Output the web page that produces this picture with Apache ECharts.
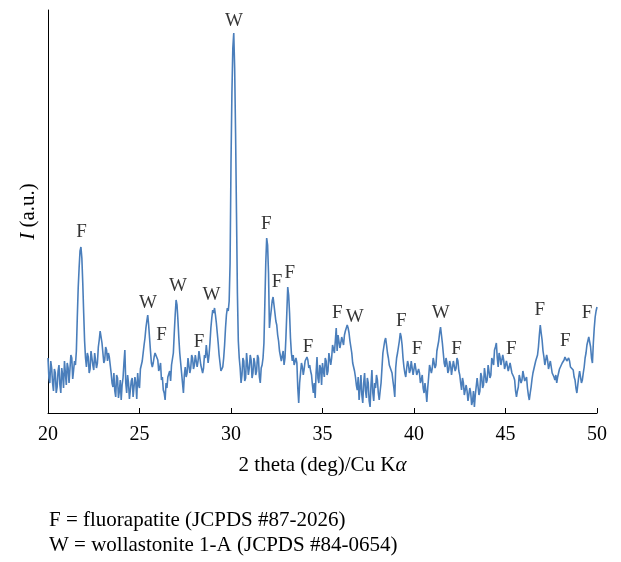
<!DOCTYPE html>
<html>
<head>
<meta charset="utf-8">
<script src="https://cdn.jsdelivr.net/npm/echarts@6/dist/echarts.min.js"></script>
<style>
html,body{margin:0;padding:0;background:#fff;}
#chart{width:621px;height:562px;}
</style>
</head>
<body>
<div id="chart"></div>
<script>
// 2 theta (deg), one row per degree
const twoTheta = [
20.00,20.05,20.10,20.15,20.20,20.25,20.30,20.35,20.40,20.45,20.50,20.55,20.60,20.65,20.70,20.75,20.80,20.85,20.90,20.95,
21.00,21.05,21.10,21.15,21.20,21.25,21.30,21.35,21.40,21.45,21.50,21.55,21.60,21.65,21.70,21.75,21.80,21.85,21.90,21.95,
22.00,22.05,22.10,22.15,22.20,22.25,22.30,22.35,22.40,22.45,22.50,22.55,22.60,22.65,22.70,22.75,22.80,22.85,22.90,22.95,
23.00,23.05,23.10,23.15,23.20,23.25,23.30,23.35,23.40,23.45,23.50,23.55,23.60,23.65,23.70,23.75,23.80,23.85,23.90,23.95,
24.00,24.05,24.10,24.15,24.20,24.25,24.30,24.35,24.40,24.45,24.50,24.55,24.60,24.65,24.70,24.75,24.80,24.85,24.90,24.95,
25.00,25.05,25.10,25.15,25.20,25.25,25.30,25.35,25.40,25.45,25.50,25.55,25.60,25.65,25.70,25.75,25.80,25.85,25.90,25.95,
26.00,26.05,26.10,26.15,26.20,26.25,26.30,26.35,26.40,26.45,26.50,26.55,26.60,26.65,26.70,26.75,26.80,26.85,26.90,26.95,
27.00,27.05,27.10,27.15,27.20,27.25,27.30,27.35,27.40,27.45,27.50,27.55,27.60,27.65,27.70,27.75,27.80,27.85,27.90,27.95,
28.00,28.05,28.10,28.15,28.20,28.25,28.30,28.35,28.40,28.45,28.50,28.55,28.60,28.65,28.70,28.75,28.80,28.85,28.90,28.95,
29.00,29.05,29.10,29.15,29.20,29.25,29.30,29.35,29.40,29.45,29.50,29.55,29.60,29.65,29.70,29.75,29.80,29.85,29.90,29.95,
30.00,30.05,30.10,30.15,30.20,30.25,30.30,30.35,30.40,30.45,30.50,30.55,30.60,30.65,30.70,30.75,30.80,30.85,30.90,30.95,
31.00,31.05,31.10,31.15,31.20,31.25,31.30,31.35,31.40,31.45,31.50,31.55,31.60,31.65,31.70,31.75,31.80,31.85,31.90,31.95,
32.00,32.05,32.10,32.15,32.20,32.25,32.30,32.35,32.40,32.45,32.50,32.55,32.60,32.65,32.70,32.75,32.80,32.85,32.90,32.95,
33.00,33.05,33.10,33.15,33.20,33.25,33.30,33.35,33.40,33.45,33.50,33.55,33.60,33.65,33.70,33.75,33.80,33.85,33.90,33.95,
34.00,34.05,34.10,34.15,34.20,34.25,34.30,34.35,34.40,34.45,34.50,34.55,34.60,34.65,34.70,34.75,34.80,34.85,34.90,34.95,
35.00,35.05,35.10,35.15,35.20,35.25,35.30,35.35,35.40,35.45,35.50,35.55,35.60,35.65,35.70,35.75,35.80,35.85,35.90,35.95,
36.00,36.05,36.10,36.15,36.20,36.25,36.30,36.35,36.40,36.45,36.50,36.55,36.60,36.65,36.70,36.75,36.80,36.85,36.90,36.95,
37.00,37.05,37.10,37.15,37.20,37.25,37.30,37.35,37.40,37.45,37.50,37.55,37.60,37.65,37.70,37.75,37.80,37.85,37.90,37.95,
38.00,38.05,38.10,38.15,38.20,38.25,38.30,38.35,38.40,38.45,38.50,38.55,38.60,38.65,38.70,38.75,38.80,38.85,38.90,38.95,
39.00,39.05,39.10,39.15,39.20,39.25,39.30,39.35,39.40,39.45,39.50,39.55,39.60,39.65,39.70,39.75,39.80,39.85,39.90,39.95,
40.00,40.05,40.10,40.15,40.20,40.25,40.30,40.35,40.40,40.45,40.50,40.55,40.60,40.65,40.70,40.75,40.80,40.85,40.90,40.95,
41.00,41.05,41.10,41.15,41.20,41.25,41.30,41.35,41.40,41.45,41.50,41.55,41.60,41.65,41.70,41.75,41.80,41.85,41.90,41.95,
42.00,42.05,42.10,42.15,42.20,42.25,42.30,42.35,42.40,42.45,42.50,42.55,42.60,42.65,42.70,42.75,42.80,42.85,42.90,42.95,
43.00,43.05,43.10,43.15,43.20,43.25,43.30,43.35,43.40,43.45,43.50,43.55,43.60,43.65,43.70,43.75,43.80,43.85,43.90,43.95,
44.00,44.05,44.10,44.15,44.20,44.25,44.30,44.35,44.40,44.45,44.50,44.55,44.60,44.65,44.70,44.75,44.80,44.85,44.90,44.95,
45.00,45.05,45.10,45.15,45.20,45.25,45.30,45.35,45.40,45.45,45.50,45.55,45.60,45.65,45.70,45.75,45.80,45.85,45.90,45.95,
46.00,46.05,46.10,46.15,46.20,46.25,46.30,46.35,46.40,46.45,46.50,46.55,46.60,46.65,46.70,46.75,46.80,46.85,46.90,46.95,
47.00,47.05,47.10,47.15,47.20,47.25,47.30,47.35,47.40,47.45,47.50,47.55,47.60,47.65,47.70,47.75,47.80,47.85,47.90,47.95,
48.00,48.05,48.10,48.15,48.20,48.25,48.30,48.35,48.40,48.45,48.50,48.55,48.60,48.65,48.70,48.75,48.80,48.85,48.90,48.95,
49.00,49.05,49.10,49.15,49.20,49.25,49.30,49.35,49.40,49.45,49.50,49.55,49.60,49.65,49.70,49.75,49.80,49.85,49.90,49.95,
50.00
];
// intensity (a.u.), same rows
const intensity = [
55,35,30,52,45,30,22,44,40,20,26,42,48,28,20,45,38,25,52,40,
28,50,45,30,32,58,55,34,36,52,48,62,95,125,145,162,166,155,130,100,
72,55,46,60,56,40,44,62,63,48,43,60,58,45,50,66,73,82,80,70,
68,50,53,66,63,52,60,56,48,40,30,26,40,22,16,38,35,15,22,33,
13,28,35,50,63,30,20,38,30,14,13,32,35,16,18,36,30,14,40,28,
25,44,43,52,60,68,75,85,92,98,88,75,62,50,46,50,56,60,61,58,
53,42,45,50,33,36,23,20,13,30,25,36,38,42,32,48,50,60,80,98,
113,108,93,75,60,50,40,30,20,38,46,36,40,55,53,40,45,58,55,44,
48,58,56,46,52,62,60,48,50,40,45,58,55,68,66,50,58,70,85,95,
103,100,105,98,90,80,70,58,50,42,40,46,55,68,85,98,105,102,112,150,
250,320,365,380,345,280,200,120,72,55,45,30,38,55,52,32,35,60,58,38,
45,58,53,35,40,55,50,38,42,58,55,36,30,45,48,55,70,110,150,175,
168,140,85,95,103,112,116,108,100,92,88,78,72,62,60,52,53,62,48,55,
75,100,126,118,100,75,60,52,58,48,46,55,50,25,10,30,40,50,46,38,
44,52,50,56,53,45,48,42,38,28,20,30,15,40,56,35,30,48,45,28,
50,42,36,55,52,38,42,60,60,48,55,68,66,60,72,85,62,78,80,65,
70,76,72,68,78,82,83,88,85,80,72,66,60,50,46,42,36,28,23,36,
13,25,38,18,10,30,40,22,15,35,30,12,6,28,43,20,12,30,25,38,
33,20,13,22,30,45,60,66,72,75,68,60,55,48,46,50,40,32,25,16,
45,55,60,66,72,80,76,68,55,46,40,36,45,52,48,40,43,52,50,38,
40,50,48,38,36,44,40,30,33,38,25,20,30,22,11,25,36,48,50,40,
45,55,56,45,48,62,63,72,80,86,78,70,60,50,46,55,50,40,43,52,
48,38,40,52,50,42,45,55,52,42,38,30,23,35,30,18,16,28,22,12,
10,25,20,8,12,22,6,18,20,35,33,18,22,40,36,25,28,45,43,30,
33,48,46,35,38,55,53,48,63,66,70,55,46,60,56,48,50,58,53,44,
45,52,50,42,44,50,48,40,42,36,33,22,16,22,26,38,36,30,33,42,
40,32,30,36,25,18,13,20,26,34,40,44,46,52,53,58,66,78,88,80,
73,62,56,48,50,58,53,44,43,52,50,40,40,36,33,38,30,36,38,44,
46,44,50,48,53,56,58,52,50,55,52,46,45,48,43,36,33,25,20,28,
36,42,40,30,33,40,46,55,60,68,72,76,75,66,55,50,70,85,96,102,
106
];

// peak assignment labels
const peakLabels = ['F','W','F','W','F','W','W','F','F','F','F','F','W','F','F','W','F','F','F','F','F'];
const peakLabelAngle = [21.83,25.46,26.2,27.1,28.25,28.93,30.16,31.93,32.51,33.21,34.21,35.81,36.76,39.31,40.16,41.46,42.32,45.32,46.87,48.27,49.45];
const peakLabelHeight = [181,110,78,127,71,118,392,189,131,140,66,100,96,92,64,100,64,64,103,72,100];

const xTicks = [20,25,30,35,40,45,50];
const noteLines = ['F = fluorapatite (JCPDS #87-2026)','W = wollastonite 1-A (JCPDS #84-0654)'];

const FONT = '"Liberation Serif", "Times New Roman", serif';

const lineData = twoTheta.map((t,i)=>[t,intensity[i]]);
const labelData = peakLabels.map((s,i)=>({name:s,value:[peakLabelAngle[i],peakLabelHeight[i]]}));

const chart = echarts.init(document.getElementById('chart'),null,{renderer:'canvas'});
chart.setOption({
  animation:false,
  backgroundColor:'#ffffff',
  grid:{left:48,right:24,top:10,bottom:149,containLabel:false},
  xAxis:{
    type:'value',min:xTicks[0],max:xTicks[xTicks.length-1],interval:5,
    axisLine:{lineStyle:{color:'#000',width:1}},
    axisTick:{inside:true,length:5,lineStyle:{color:'#000'}},
    splitLine:{show:false},
    axisLabel:{color:'#000',fontFamily:FONT,fontSize:20,margin:12},
    name:'2 theta (deg)/Cu K{a|α}',nameLocation:'middle',nameGap:42,
    nameTextStyle:{color:'#000',fontFamily:FONT,fontSize:21,
      rich:{a:{fontFamily:FONT,fontSize:21,fontStyle:'italic',color:'#000'}}}
  },
  yAxis:{
    type:'value',min:0,max:403,
    axisLine:{show:true,lineStyle:{color:'#000',width:1}},
    axisTick:{show:false},axisLabel:{show:false},splitLine:{show:false},
    name:'{i|I} (a.u.)',nameLocation:'middle',nameRotate:90,nameGap:9,
    nameTextStyle:{color:'#000',fontFamily:FONT,fontSize:21,
      rich:{i:{fontFamily:FONT,fontSize:21,fontStyle:'italic',color:'#000'}}}
  },
  series:[
    {type:'line',data:lineData,showSymbol:false,symbol:'none',
     lineStyle:{color:'#4a7ebb',width:1.6},z:2},
    {type:'scatter',data:labelData,symbolSize:0,silent:true,z:3,
     label:{show:true,position:'inside',formatter:'{b}',color:'#000',fontFamily:FONT,fontSize:19}}
  ],
  graphic:[
    {type:'text',left:49,top:510,style:{text:noteLines[0],font:'21px '+FONT,fill:'#000'}},
    {type:'text',left:49,top:535,style:{text:noteLines[1],font:'21px '+FONT,fill:'#000'}}
  ]
});
</script>
</body>
</html>
